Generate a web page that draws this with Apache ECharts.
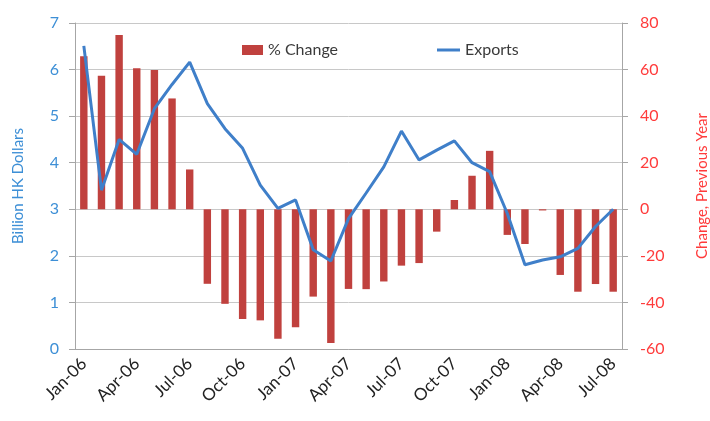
<!DOCTYPE html>
<html><head><meta charset="utf-8">
<script src="https://cdn.jsdelivr.net/npm/echarts@6/dist/echarts.min.js"></script>
<style>html,body{margin:0;padding:0;background:#fff}#c{width:710px;height:421px}</style>
</head><body><div id="c"></div>
<script>
const categories = ['Jan-06','Feb-06','Mar-06','Apr-06','May-06','Jun-06','Jul-06','Aug-06','Sep-06','Oct-06','Nov-06','Dec-06',
  'Jan-07','Feb-07','Mar-07','Apr-07','May-07','Jun-07','Jul-07','Aug-07','Sep-07','Oct-07','Nov-07','Dec-07',
  'Jan-08','Feb-08','Mar-08','Apr-08','May-08','Jun-08','Jul-08'];
const exportsVals = [6.51,3.41,4.5,4.18,5.16,5.68,6.16,5.27,4.73,4.31,3.52,3.02,
  3.2,2.13,1.89,2.8,3.35,3.91,4.68,4.06,4.27,4.47,4.0,3.81,
  2.91,1.81,1.91,1.98,2.16,2.63,3.0];
const pctChange = [65.7,57.4,74.8,60.6,59.8,47.6,17.1,-32.0,-40.6,-47.1,-47.7,-55.6,
  -50.7,-37.5,-57.4,-34.2,-34.3,-31.0,-24.2,-23.1,-9.6,4.0,14.4,25.1,
  -11.0,-14.9,-0.5,-28.2,-35.4,-32.1,-35.4];
const leftTicks = {min:0, max:7, interval:1};
const rightTicks = {min:-60, max:80, interval:20};

const font = 'Lato, "Open Sans", sans-serif';
const chart = echarts.init(document.getElementById('c'));
chart.setOption({
  animation:false,
  textStyle:{fontFamily:font},
  grid:{left:75, right:88, top:23, bottom:72, containLabel:false, outerBoundsMode:'none'},
  legend:[
    {data:[{name:'% Change', icon:'rect'}], left:237, top:37, itemWidth:21, itemHeight:10, itemGap:4,
     textStyle:{fontSize:16, color:'#3a3a3a', fontFamily:font}},
    {data:[{name:'Exports', icon:'rect'}], left:432, top:37, itemWidth:23, itemHeight:3,
     textStyle:{fontSize:16, color:'#3a3a3a', fontFamily:font}}
  ],
  xAxis:{type:'category', data:categories, boundaryGap:true,
    axisLine:{lineStyle:{color:'#a6a6a6'}},
    axisTick:{interval:2, length:6, lineStyle:{color:'#a6a6a6'}},
    axisLabel:{interval:2, rotate:45, fontSize:17, color:'#222', margin:12, fontFamily:font}},
  yAxis:[
    {type:'value', min:leftTicks.min, max:leftTicks.max, interval:leftTicks.interval,
     name:'Billion HK Dollars', nameLocation:'middle', nameGap:49, nameRotate:90,
     nameTextStyle:{color:'#3d8fd6', fontSize:15, fontFamily:font},
     axisLine:{show:true, lineStyle:{color:'#a6a6a6'}},
     axisTick:{show:true, length:6, lineStyle:{color:'#a6a6a6'}},
     axisLabel:{color:'#3d8fd6', fontSize:16, margin:16, fontFamily:font},
     splitLine:{lineStyle:{color:'#c8c8c8'}}},
    {type:'value', min:rightTicks.min, max:rightTicks.max, interval:rightTicks.interval, position:'right',
     name:'Change, Previous Year', nameLocation:'middle', nameGap:73, nameRotate:90,
     nameTextStyle:{color:'#ff3b3b', fontSize:15, fontFamily:font},
     axisLine:{show:true, lineStyle:{color:'#a6a6a6'}},
     axisTick:{show:true, length:6, lineStyle:{color:'#a6a6a6'}},
     axisLabel:{color:'#ff3b3b', fontSize:16, margin:18, fontFamily:font},
     splitLine:{show:false}}
  ],
  series:[
    {name:'% Change', type:'bar', yAxisIndex:1, data:pctChange, barWidth:'42%',
     itemStyle:{color:'#c0413e'}},
    {name:'Exports', type:'line', yAxisIndex:0, data:exportsVals, symbol:'none',
     lineStyle:{color:'#3f7fc9', width:3}, itemStyle:{color:'#3f7fc9'}}
  ]
});
</script></body></html>
